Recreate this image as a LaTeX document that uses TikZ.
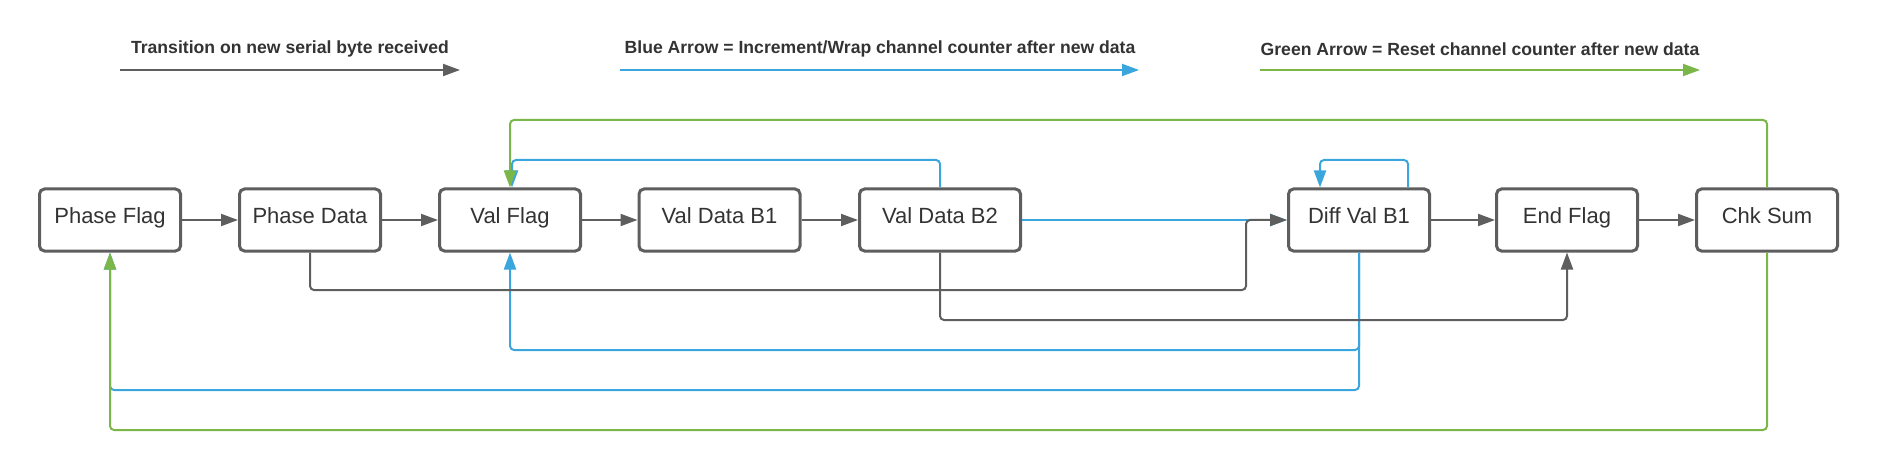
\documentclass[tikz,border=0pt]{standalone}
\usepackage{fontspec}
\setmainfont{Liberation Sans}
\usetikzlibrary{arrows.meta,calc}
\definecolor{lgray}{HTML}{5E5E5E}
\definecolor{lblue}{HTML}{3AA6DD}
\definecolor{lgreen}{HTML}{7AB648}
\definecolor{ltext}{HTML}{333333}
\tikzset{
  box/.style={draw=lgray, line width=1.5pt, rounded corners=2.5pt, fill=white,
    minimum width=70.5pt, minimum height=31pt, inner sep=0pt, text=ltext,
    text height=4pt, text depth=0pt,
    font=\fontsize{11}{13}\selectfont},
  wbox/.style={box, minimum width=80.5pt},
  conn/.style={line width=1pt, rounded corners=2pt, -{Triangle[length=8.5pt,width=6pt]}},
  gconn/.style={conn, draw=lgray},
  bconn/.style={conn, draw=lblue},
  grconn/.style={conn, draw=lgreen},
  legtext/.style={text=ltext, font=\bfseries\fontsize{8.8}{10}\selectfont, inner sep=0pt},
}
\begin{document}
\begin{tikzpicture}[x=0.5pt,y=-0.5pt]
\useasboundingbox (0,0) rectangle (1877,470);
% legend
\node[legtext] (lt1) at (290,49) {Transition on new serial byte received};
\node[legtext] (lt2) at (880,49) {Blue Arrow = Increment/Wrap channel counter after new data};
\node[legtext] (lt3) at (1480,49) {Green Arrow = Reset channel counter after new data};
\coordinate (l1a) at (120,70); \coordinate (l1b) at (460,70);
\coordinate (l2a) at (620,70); \coordinate (l2b) at (1139,70);
\coordinate (l3a) at (1260,70); \coordinate (l3b) at (1700,70);
\draw[gconn] (l1a) -- (l1b);
\draw[bconn] (l2a) -- (l2b);
\draw[grconn] (l3a) -- (l3b);
% boxes
\node[box] (pf) at (110,220) {Phase Flag};
\node[box] (pd) at (310,220) {Phase Data};
\node[box] (vf) at (510,220) {Val Flag};
\node[wbox] (vb1) at (719.5,220) {Val Data B1};
\node[wbox] (vb2) at (940,220) {Val Data B2};
\node[box] (dv) at (1359,220) {Diff Val B1};
\node[box] (ef) at (1567,220) {End Flag};
\node[box] (cs) at (1767,220) {Chk Sum};
% blue connectors
\draw[bconn] (vb2.north) |- ($(vf.north |- 0,160)+(2,0)$) -- ($(vf.north)+(2,0)$);
\draw[bconn] (vb2.east) -- (dv.west);
\draw[bconn] ($(dv.north)+(49,0)$) |- ($(dv.north |- 0,160)+(-39,0)$) -- ($(dv.north)+(-39,0)$);
\draw[bconn] (dv.south) |- (vf.south |- 0,350) -- (vf.south);
\draw[bconn] (dv.south) |- (pf.south |- 0,390) -- (pf.south);
% gray connectors
\draw[gconn] (pf.east) -- (pd.west);
\draw[gconn] (pd.east) -- (vf.west);
\draw[gconn] (vf.east) -- (vb1.west);
\draw[gconn] (vb1.east) -- (vb2.west);
\draw[gconn] (dv.east) -- (ef.west);
\draw[gconn] (ef.east) -- (cs.west);
\draw[gconn] (pd.south) |- (1246,290) |- (dv.west);
\draw[gconn] (vb2.south) |- (ef.south |- 0,320) -- (ef.south);
% green connectors
\draw[grconn] (cs.north) |- (vf.north |- 0,120) -- (vf.north);
\draw[grconn] (cs.south) |- (pf.south |- 0,430) -- (pf.south);
\end{tikzpicture}
\end{document}
